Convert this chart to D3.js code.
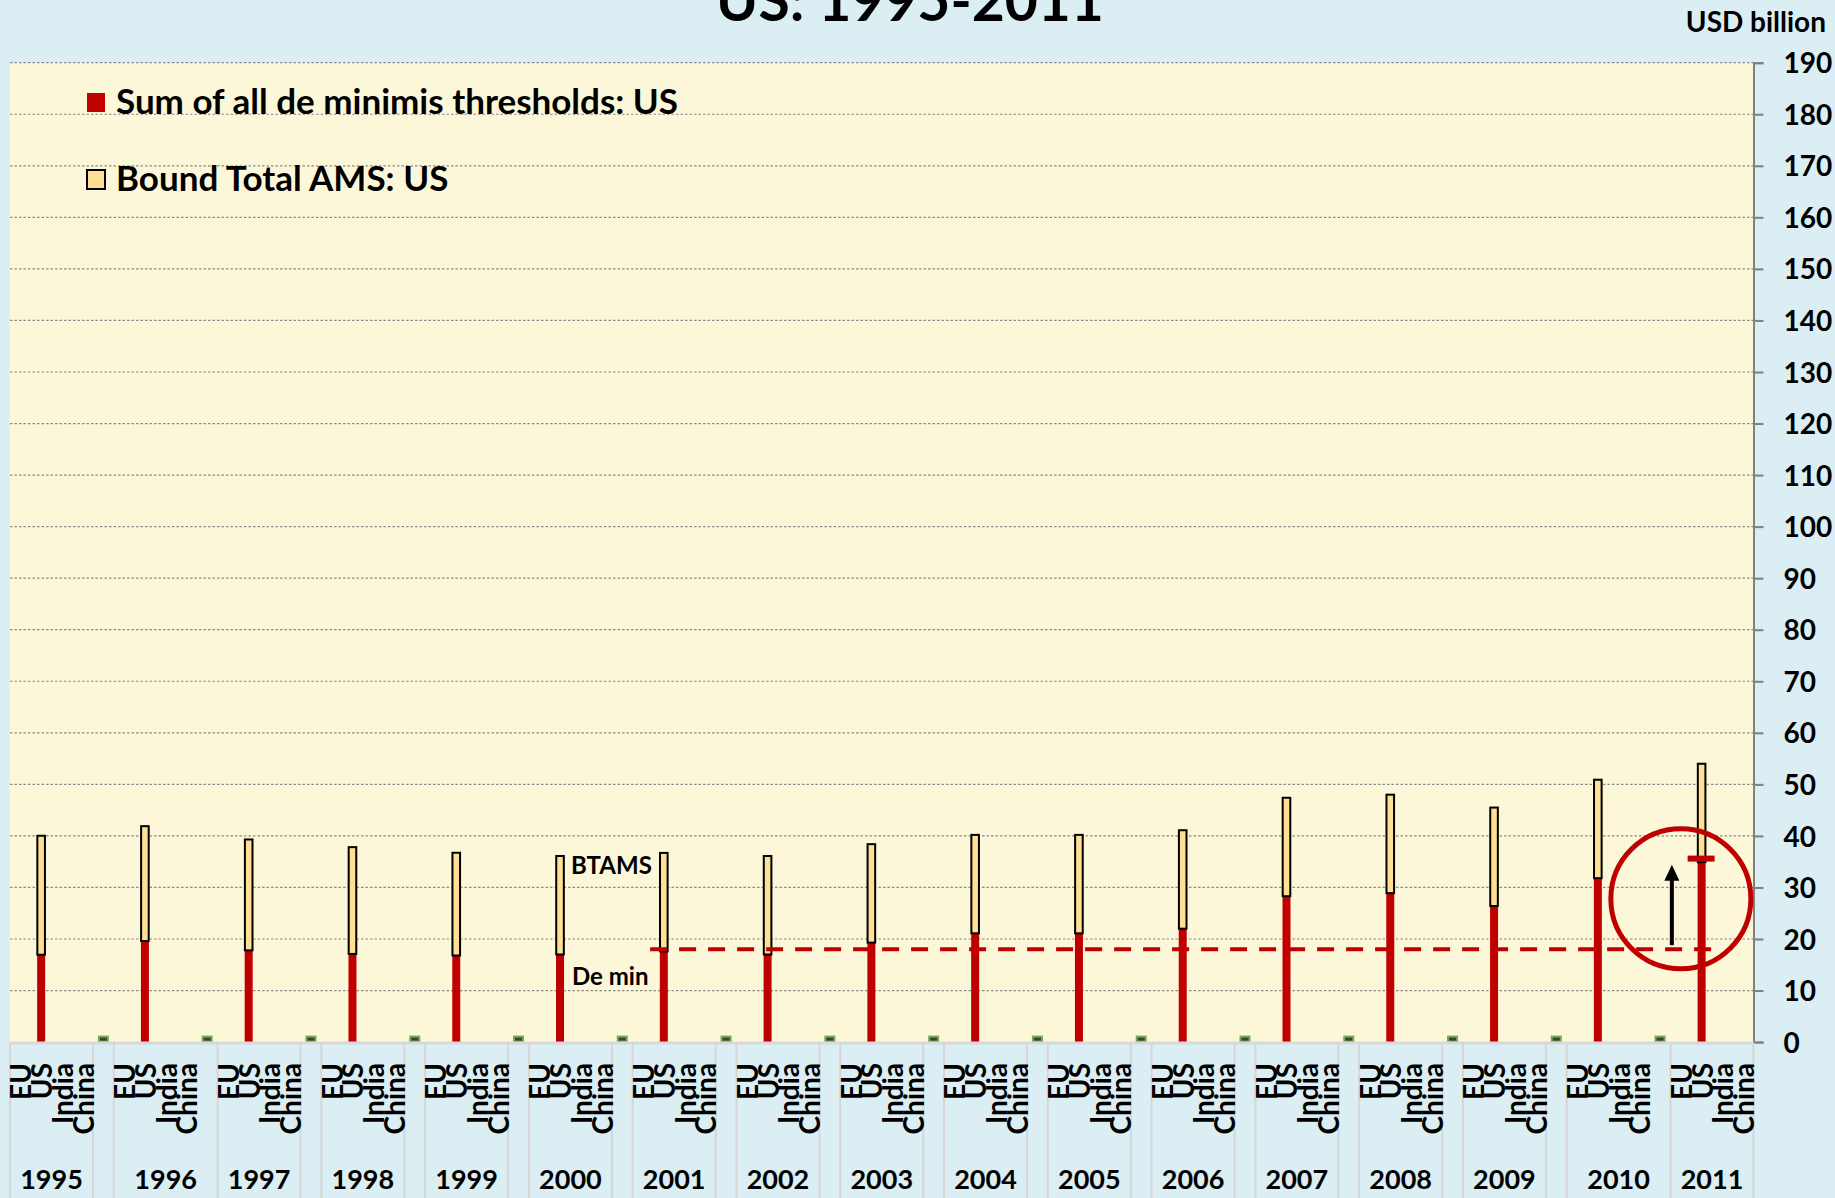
<!DOCTYPE html>
<html><head><meta charset="utf-8">
<script src="https://cdn.jsdelivr.net/npm/d3@7"></script>
<style>
body{margin:0;background:#DAEEF3;}
svg{display:block;font-family:Lato,'Open Sans',sans-serif;font-weight:700;}
</style>
</head><body>
<svg id="chart" width="1835" height="1198"></svg>
<script>
// ---------- data ----------
const years = [1995,1996,1997,1998,1999,2000,2001,2002,2003,2004,2005,2006,2007,2008,2009,2010,2011];
const countries = ["EU","US","India","China"];
// Sum of all de minimis thresholds: US (USD billion)
const deMinimis = [16.95,19.6,17.8,17.1,16.8,17.0,17.6,17.0,19.3,21.1,21.1,22.0,28.3,28.9,26.4,31.8,34.9];
// Bound Total AMS: US (USD billion), stacked above de minimis
const boundTotalAMS = [23.08,22.29,21.51,20.72,19.93,19.10,19.10,19.10,19.10,19.10,19.10,19.10,19.10,19.10,19.10,19.10,19.10];
const yTicks = [0,10,20,30,40,50,60,70,80,90,100,110,120,130,140,150,160,170,180,190];
const gapJoinsYear = [1996, 2010];   // spacer slot shares the year's label group
const legendLabels = ["Sum of all de minimis thresholds: US","Bound Total AMS: US"];
const titleText = "US: 1995-2011";
const unitLabel = "USD billion";
const deMinLevel2001 = 18.0;          // dashed reference level
const capLevel2011 = 35.6;            // red cap on 2011
const arrowFrom = 18.8, arrowTo = 34.4, circleCenter = 27.8;

// ---------- layout ----------
(function(){
const svg = d3.select("#chart");
const W = 1835, H = 1198;
const pLeft = 10, pRight = 1753.5, pTop = 62.7, pBottom = 1042.1;
const RED = "#C00000", TAN = "#FFDF93";

const slots = [];
years.forEach((yr, i) => {
  countries.forEach(c => slots.push({key: yr + "-" + c, year: yr, country: c, group: String(yr), label: String(yr)}));
  if (i < years.length - 1) {
    const joined = gapJoinsYear.includes(yr);
    slots.push({key: yr + "-gap", year: yr, country: "", gap: true,
      group: joined ? String(yr) : yr + "-gap", label: joined ? String(yr) : ""});
  }
});

const x = d3.scaleBand().domain(slots.map(s => s.key)).range([pLeft, pRight]).padding(0);
const bw = x.bandwidth();
const y = d3.scaleLinear().domain([0, 190]).range([pBottom, pTop]);

svg.append("rect").attr("width", W).attr("height", H).attr("fill", "#DAEEF3");
svg.append("rect").attr("x", pLeft).attr("y", pTop).attr("width", pRight - pLeft).attr("height", pBottom - pTop).attr("fill", "#FDF7D9");

// gridlines
svg.append("g").selectAll("line").data(yTicks.filter(d => d > 0)).join("line")
  .attr("x1", pLeft).attr("x2", pRight).attr("y1", d => y(d)).attr("y2", d => y(d))
  .attr("stroke", "#8a8a8a").attr("stroke-width", 1.2).attr("stroke-dasharray", "2.5,2");

// title (only its lower part is visible, as in the source)
svg.append("text").attr("x", 910).attr("y", 21).attr("text-anchor", "middle")
  .attr("font-size", 57).attr("fill", "#000").text(titleText);

// unit label
svg.append("text").attr("x", 1826).attr("y", 32).attr("text-anchor", "end")
  .attr("font-size", 28).text(unitLabel);

// right axis
const yAxis = d3.axisRight(y).tickValues(yTicks).tickSize(10).tickPadding(20).tickFormat(d3.format("d"));
const ga = svg.append("g").attr("transform", `translate(${pRight},0)`).call(yAxis);
ga.attr("font-size", null).attr("font-family", null);
ga.select(".domain").attr("stroke", "#808080").attr("stroke-width", 2);
ga.selectAll(".tick line").attr("stroke", "#808080").attr("stroke-width", 2);
ga.selectAll(".tick text").attr("font-size", 28).attr("font-weight", 700).attr("fill", "#000").attr("dy", "0.36em");

// bars
const data = years.map((yr, i) => ({year: yr, dm: deMinimis[i], bt: boundTotalAMS[i]}));
const bx = d => x(d.year + "-US") + bw / 2;
svg.append("g").selectAll("rect").data(data).join("rect")
  .attr("x", d => bx(d) - 4).attr("width", 8)
  .attr("y", d => y(d.dm)).attr("height", d => y(0) - y(d.dm)).attr("fill", RED);
svg.append("g").selectAll("rect").data(data).join("rect")
  .attr("x", d => bx(d) - 3.8).attr("width", 7.6)
  .attr("y", d => y(d.dm + d.bt)).attr("height", d => y(d.dm) - y(d.dm + d.bt))
  .attr("fill", TAN).attr("stroke", "#000").attr("stroke-width", 2);

// dashed reference line
svg.append("line")
  .attr("x1", x("2001-EU") + bw * 0.84).attr("x2", x("2011-US") + bw)
  .attr("y1", y(deMinLevel2001)).attr("y2", y(deMinLevel2001))
  .attr("stroke", RED).attr("stroke-width", 4).attr("stroke-dasharray", "17,12");

// spacer markers at zero
svg.append("g").selectAll("rect").data(slots.filter(s => s.gap)).join("rect")
  .attr("x", s => x(s.key) + bw / 2 - 4.5).attr("width", 9)
  .attr("y", y(0) - 5.5).attr("height", 5)
  .attr("fill", "#404040").attr("stroke", "#70AD47").attr("stroke-width", 2);

// category axis
svg.append("line").attr("x1", pLeft).attr("x2", pRight).attr("y1", pBottom + 1).attr("y2", pBottom + 1)
  .attr("stroke", "#D9D9D9").attr("stroke-width", 3);

// groups
const groups = [];
slots.forEach(s => {
  const g = groups[groups.length - 1];
  if (g && g.group === s.group) g.end = x(s.key) + bw;
  else groups.push({group: s.group, label: s.label, start: x(s.key), end: x(s.key) + bw});
});
const seps = groups.map(g => g.start).concat([pRight]);
svg.append("g").selectAll("line").data(seps).join("line")
  .attr("x1", d => d).attr("x2", d => d).attr("y1", pBottom + 1).attr("y2", H)
  .attr("stroke", "#D6D6D6").attr("stroke-width", 2);

svg.append("g").selectAll("text").data(groups.filter(g => g.label)).join("text")
  .attr("x", g => (g.start + g.end) / 2).attr("y", 1189).attr("text-anchor", "middle")
  .attr("font-size", 27).text(g => g.label);

svg.append("g").selectAll("text").data(slots.filter(s => s.country)).join("text")
  .attr("transform", s => `translate(${x(s.key) + bw / 2 + 11},1063) rotate(-90)`)
  .attr("text-anchor", "end").attr("font-size", 28).text(s => s.country);

// legend
const lg = svg.append("g");
[[RED, "none", 114], [TAN, "#000", 191]].forEach(([fill, stroke, base], i) => {
  lg.append("rect").attr("x", 87).attr("y", base - 21).attr("width", 18).attr("height", 19)
    .attr("fill", fill).attr("stroke", stroke).attr("stroke-width", 2);
  lg.append("text").attr("x", 116).attr("y", base).attr("font-size", 35).text(legendLabels[i]);
});

// annotations
svg.append("text").attr("x", 571).attr("y", 874).attr("font-size", 24).text("BTAMS");
svg.append("text").attr("x", 572).attr("y", 985).attr("font-size", 24).text("De min");

const cx2011 = x("2011-EU") + bw / 2;
svg.append("circle").attr("cx", cx2011).attr("cy", y(circleCenter)).attr("r", 70)
  .attr("fill", "none").attr("stroke", RED).attr("stroke-width", 5);
const ax = cx2011 - 9;
svg.append("line").attr("x1", ax).attr("x2", ax).attr("y1", y(arrowFrom)).attr("y2", y(arrowTo) + 12)
  .attr("stroke", "#000").attr("stroke-width", 4);
svg.append("path")
  .attr("d", `M${ax},${y(arrowTo)} L${ax - 7.5},${y(arrowTo) + 16} L${ax + 7.5},${y(arrowTo) + 16} Z`)
  .attr("fill", "#000");
const capX = x("2011-US") + bw / 2;
svg.append("line").attr("x1", capX - 14).attr("x2", capX + 13)
  .attr("y1", y(capLevel2011)).attr("y2", y(capLevel2011))
  .attr("stroke", RED).attr("stroke-width", 6);
})();
</script>
</body></html>
